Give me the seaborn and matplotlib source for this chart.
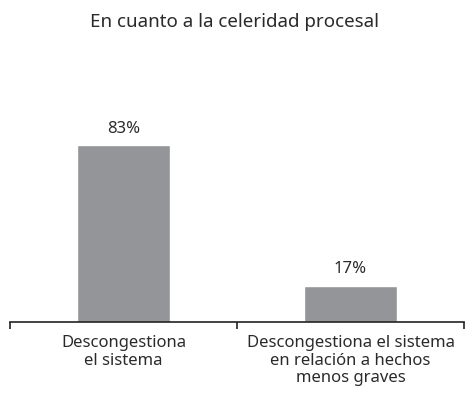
import matplotlib
matplotlib.use("Agg")
import matplotlib.pyplot as plt
import seaborn as sns
import pandas as pd

categories = ["Descongestiona\nel sistema", "Descongestiona el sistema\nen relación a hechos\nmenos graves"]
values = [83, 17]
labels = ["83%", "17%"]
title = "En cuanto a la celeridad procesal"

sns.set_theme(style="white")
plt.rcParams['font.family'] = ['Noto Sans', 'DejaVu Sans']

df = pd.DataFrame({"cat": categories, "val": values})

fig = plt.figure(figsize=(4.69, 4.02), dpi=100)
ax = fig.add_axes([10/469, (402-323)/402, 454/469, (323-110)/402])
sns.barplot(data=df, x="cat", y="val", color="#939598", width=0.41, saturation=1, ax=ax)
ax.set_xlim(-0.5, 1.5)
ax.set_ylim(0, 100)
for i, (v, l) in enumerate(zip(values, labels)):
    ax.text(i, v + 4.5, l, ha="center", va="bottom", fontsize=12, color="#2a2a2a")
for s in ["top", "right", "left"]:
    ax.spines[s].set_visible(False)
ax.spines["bottom"].set_color("#222222")
ax.spines["bottom"].set_linewidth(1.2)
ax.set_yticks([])
ax.set_xlabel("")
ax.set_ylabel("")
ax.set_xticks([0, 1])
ax.set_xticklabels(categories, fontsize=12, color="#2a2a2a", linespacing=1.1)
ax.tick_params(axis="x", which="major", length=0, pad=9)
ax.set_xticks([-0.5, 0.5, 1.5], minor=True)
ax.tick_params(axis="x", which="minor", length=5, width=1.2, color="#222222", direction="out", bottom=True)
fig.text(0.5, 1 - 22/402, title, ha="center", va="center", fontsize=13.5, color="#2a2a2a")
fig.savefig("out.png", dpi=100)
